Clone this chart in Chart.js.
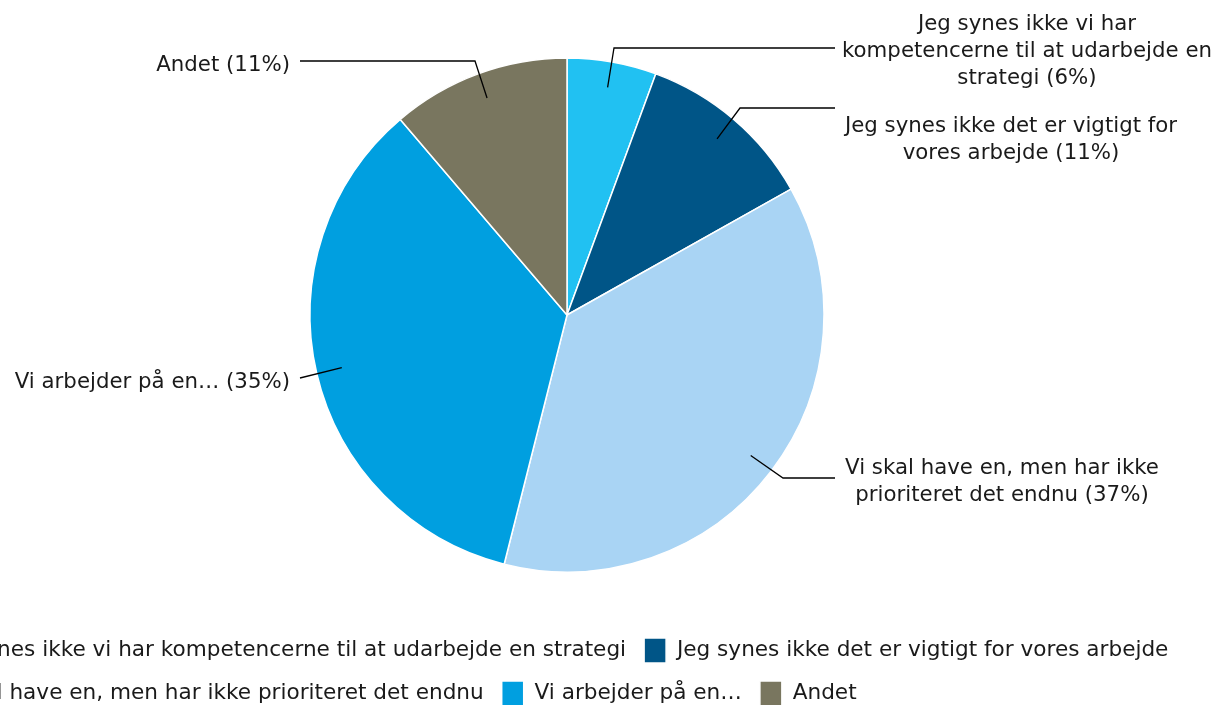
<!DOCTYPE html>
<html>
<head>
<meta charset="utf-8">
<script src="https://cdn.jsdelivr.net/npm/chart.js@4.4.1/dist/chart.umd.min.js"></script>
<style>
  html, body { margin: 0; padding: 0; background: #fff; overflow: hidden; width: 1218px; height: 705px; }
  #wrap { position: absolute; left: -118px; top: 0; width: 1370px; height: 716px; }
</style>
</head>
<body>
<div id="wrap"><canvas id="mainChart"></canvas></div>
<script>
const categories = [
    "Jeg synes ikke vi har kompetencerne til at udarbejde en strategi",
    "Jeg synes ikke det er vigtigt for vores arbejde",
    "Vi skal have en, men har ikke prioriteret det endnu",
    "Vi arbejder på en…",
    "Andet"
];
const answers = [5, 10, 33, 31, 10];
const sliceColors = ["#21c1f2", "#005587", "#a9d4f4", "#009fe0", "#79765f"];

// label text as it is broken over lines beside the pie
const labelLines = [
    ["Jeg synes ikke vi har", "kompetencerne til at udarbejde en", "strategi"],
    ["Jeg synes ikke det er vigtigt for", "vores arbejde"],
    ["Vi skal have en, men har ikke", "prioriteret det endnu"],
    ["Vi arbejder på en…"],
    ["Andet"]
];

// callout placement, px relative to pie centre
const callouts = [
    { elbow: [47, -267], end: [268, -267], align: "center", textX: 460, textY: -285 },
    { elbow: [173, -207], end: [268, -207], align: "center", textX: 444, textY: -183 },
    { elbow: [216, 163], end: [268, 163], align: "center", textX: 435, textY: 159 },
    { elbow: null, end: [-267, 63], align: "right", textX: -277, textY: 73 },
    { elbow: [-92, -254], end: [-267, -254], align: "right", textX: -277, textY: -244 }
];

const FONT = '"DejaVu Sans", Verdana, sans-serif';
Chart.defaults.font.family = FONT;
Chart.defaults.color = "#1a1a1a";

const calloutPlugin = {
    id: "callouts",
    afterDatasetsDraw(chart) {
        const ctx = chart.ctx;
        const arcs = chart.getDatasetMeta(0).data;
        const total = answers.reduce((a, b) => a + b, 0);
        ctx.save();
        ctx.font = "21.3px " + FONT;
        ctx.fillStyle = "#1a1a1a";
        ctx.strokeStyle = "#000";
        ctx.lineWidth = 1.3;
        arcs.forEach((arc, i) => {
            const p = arc.getProps(["x", "y", "startAngle", "endAngle", "outerRadius"], true);
            const mid = (p.startAngle + p.endAngle) / 2;
            const r = p.outerRadius * 0.9;
            const c = callouts[i];
            ctx.beginPath();
            ctx.moveTo(p.x + Math.cos(mid) * r, p.y + Math.sin(mid) * r);
            if (c.elbow) ctx.lineTo(p.x + c.elbow[0], p.y + c.elbow[1]);
            ctx.lineTo(p.x + c.end[0], p.y + c.end[1]);
            ctx.stroke();

            const pct = Math.round(answers[i] / total * 100);
            const lines = labelLines[i].slice();
            lines[lines.length - 1] += " (" + pct + "%)";
            ctx.textAlign = c.align;
            ctx.textBaseline = "alphabetic";
            lines.forEach((t, k) => ctx.fillText(t, p.x + c.textX, p.y + c.textY + k * 27));
        });
        ctx.restore();
    }
};

new Chart(document.getElementById("mainChart"), {
    type: "pie",
    data: {
        labels: categories,
        datasets: [{
            data: answers,
            backgroundColor: sliceColors,
            borderColor: "#ffffff",
            borderWidth: 1.5,
            radius: 257
        }]
    },
    options: {
        responsive: true,
        maintainAspectRatio: false,
        animation: false,
        layout: { padding: { top: 10, left: 0, right: 0, bottom: 0 } },
        plugins: {
            tooltip: { enabled: false },
            legend: {
                position: "bottom",
                align: "start",
                labels: {
                    boxWidth: 22,
                    boxHeight: 25,
                    padding: 18,
                    color: "#1a1a1a",
                    font: { size: 21.6 }
                }
            }
        }
    },
    plugins: [calloutPlugin]
});
</script>
</body>
</html>
